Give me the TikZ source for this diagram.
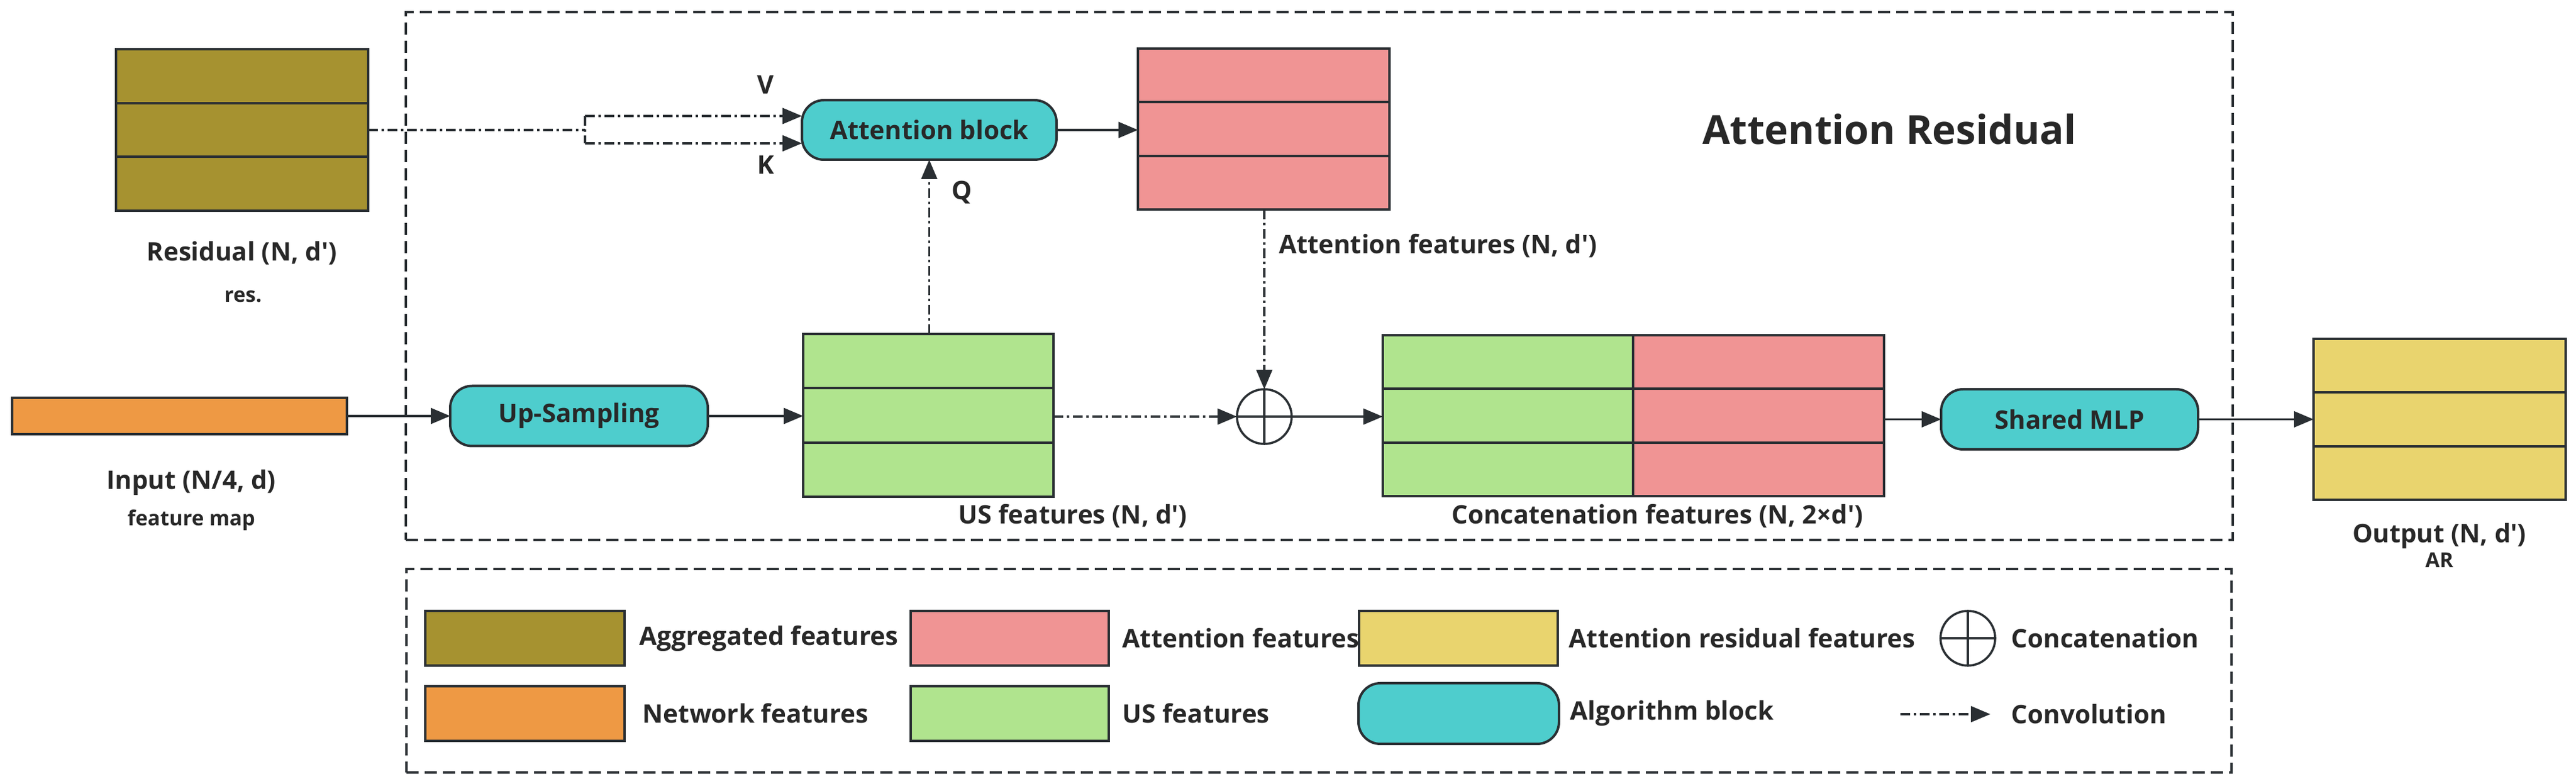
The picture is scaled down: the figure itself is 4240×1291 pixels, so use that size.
\documentclass[tikz,border=0pt]{standalone}
\usepackage{fontspec}
\setmainfont{Open Sans}
\usetikzlibrary{arrows.meta,calc}
\definecolor{olv}{RGB}{166,146,48}
\definecolor{pnk}{RGB}{240,148,148}
\definecolor{grn}{RGB}{176,228,142}
\definecolor{org}{RGB}{238,153,68}
\definecolor{ylw}{RGB}{233,212,110}
\definecolor{cyn}{RGB}{78,205,205}
\definecolor{edgec}{RGB}{42,47,51}
\definecolor{txt}{RGB}{40,40,40}
\newcommand\px{*0.25pt}
\newcommand\aq{\textquotesingle}
\newcommand\featrows[1]{\draw[edgec,line width=1pt]
  ($(#1.north west)!1/3!(#1.south west)$) -- ($(#1.north east)!1/3!(#1.south east)$)
  ($(#1.north west)!2/3!(#1.south west)$) -- ($(#1.north east)!2/3!(#1.south east)$);}
\tikzset{
  feat/.style={draw=edgec, line width=1pt, rectangle, inner sep=0pt, outer sep=0pt},
  algo/.style={draw=edgec, fill=cyn, line width=1pt, rectangle, rounded corners=9pt, inner sep=0pt, outer sep=0pt,
    font=\bfseries\fontsize{10.5}{12}\selectfont, text=txt},
  lab/.style={font=\bfseries\fontsize{10.5}{12}\selectfont, text=txt, inner sep=0pt},
  sub/.style={font=\bfseries\fontsize{8.5}{10}\selectfont, text=txt, inner sep=0pt},
  ttl/.style={font=\bfseries\fontsize{16.5}{18}\selectfont, text=txt, inner sep=0pt},
  arr/.style={draw=edgec, line width=0.9pt, -{Triangle[length=8pt,width=6.5pt]}},
  convdash/.style={draw=edgec, line width=0.9pt, dash pattern=on 4pt off 1.5pt on 1pt off 1.5pt},
  conv/.style={convdash, -{Triangle[length=8pt,width=6.5pt]}},
  frame/.style={draw=edgec, line width=0.8pt, dash pattern=on 5pt off 2.5pt},
  catc/.style={circle, draw=edgec, line width=0.9pt, fill=white, minimum size=90\px, inner sep=0pt, outer sep=0pt},
}
\begin{document}
\begin{tikzpicture}[x=0.25pt,y=-0.25pt]
\useasboundingbox (0,0) rectangle (4240,1291);

% frames
\node[frame, rectangle, minimum width=3007\px, minimum height=869\px, inner sep=0pt, outer sep=0pt] (arframe) at (2171.5,454.5) {};
\node[frame, rectangle, minimum width=3004\px, minimum height=335\px, inner sep=0pt, outer sep=0pt] (legframe) at (2171,1104.5) {};

% feature boxes
\node[feat, fill=olv, minimum width=415\px, minimum height=266\px] (res) at (398.5,214) {};
\featrows{res}
\node[feat, fill=pnk, minimum width=414\px, minimum height=265\px] (attf) at (2080,212.5) {};
\featrows{attf}
\node[feat, fill=org, minimum width=551\px, minimum height=60\px] (inp) at (295.5,685) {};
\node[feat, fill=grn, minimum width=412\px, minimum height=268\px] (us) at (1528,684) {};
\featrows{us}
\node[feat, fill=grn, minimum width=412\px, minimum height=265\px] (catg) at (2482,684.5) {};
\featrows{catg}
\node[feat, fill=pnk, minimum width=413\px, minimum height=265\px] (catr) at (2894.5,684.5) {};
\featrows{catr}
\node[feat, fill=ylw, minimum width=415\px, minimum height=265\px] (outp) at (4015.5,690.5) {};
\featrows{outp}

% algorithm blocks
\node[algo, minimum width=419\px, minimum height=98\px] (attb) at (1529.5,214) {Attention block};
\node[algo, minimum width=424\px, minimum height=99\px] (ups) at (953,685) {Up-Sampling};
\node[algo, minimum width=423\px, minimum height=99\px] (mlp) at (3406.5,690.5) {Shared MLP};

% concatenation
\node[catc] (cc) at (2081,686) {};
\draw[edgec, line width=0.9pt] (cc.north) -- (cc.south) (cc.west) -- (cc.east);

% labels
\node[lab] (lres) at (398,417) {Residual (N, d\aq)};
\node[sub] (lres2) at (400,488) {res.};
\node[lab] (linp) at (315,795) {Input (N/4, d)};
\node[sub] (linp2) at (315,857) {feature map};
\node[lab] (lus) at (1766,850) {US features (N, d\aq)};
\node[lab] (lcat) at (2728,850) {Concatenation features (N, 2×d\aq)};
\node[lab] (lout) at (4015,883) {Output (N, d\aq)};
\node[sub] (lout2) at (4015,922) {AR};
\node[lab] (latt) at (2367,405) {Attention features (N, d\aq)};
\node[lab] (lv) at (1260,140) {V};
\node[lab] (lk) at (1260,272) {K};
\node[lab] (lq) at (1583,317) {Q};
\node[ttl] (title) at (3110,213) {Attention Residual};

% connectors
\coordinate (sp) at (963,214);
\coordinate (spv) at (963,191);
\coordinate (spk) at (963,236);
\draw[convdash] (res.east) -- (sp);
\draw[convdash] (spv) -- (spk);
\draw[conv] (spv) -- (spv -| attb.west);
\draw[conv] (spk) -- (spk -| attb.west);
\draw[conv] (us.north -| attb.south) -- (attb.south);
\draw[arr] (attb.east) -- (attb.east -| attf.west);
\draw[conv] (attf.south -| cc.north) -- (cc.north);
\draw[arr] (inp.east) -- (ups.west);
\draw[arr] (ups.east) -- (ups.east -| us.west);
\draw[conv] (us.east |- cc.west) -- (cc.west);
\draw[arr] (cc.east) -- (cc.east -| catg.west);
\draw[arr] (catr.east |- mlp.west) -- (mlp.west);
\draw[arr] (mlp.east) -- (mlp.east -| outp.west);

% legend
\node[feat, fill=olv, minimum width=328\px, minimum height=90\px] (sw1) at (864,1051) {};
\node[lab, anchor=west] (t1) at (1052,1051) {Aggregated features};
\node[feat, fill=pnk, minimum width=326\px, minimum height=90\px] (sw2) at (1662,1051) {};
\node[lab, anchor=west] (t2) at (1847,1051) {Attention features};
\node[feat, fill=ylw, minimum width=327\px, minimum height=90\px] (sw3) at (2400,1051) {};
\node[lab, anchor=west] (t3) at (2582,1051) {Attention residual features};
\node[catc] (lcc) at (3239,1051) {};
\draw[edgec, line width=0.9pt] (lcc.north) -- (lcc.south) (lcc.west) -- (lcc.east);
\node[lab, anchor=west] (t4) at (3310,1051) {Concatenation};
\node[feat, fill=org, minimum width=328\px, minimum height=90\px] (sw4) at (864,1175) {};
\node[lab, anchor=west] (t5) at (1057,1175) {Network features};
\node[feat, fill=grn, minimum width=326\px, minimum height=90\px] (sw5) at (1662,1175) {};
\node[lab, anchor=west] (t6) at (1847,1175) {US features};
\node[algo, minimum width=330\px, minimum height=100\px] (sw6) at (2401,1175) {};
\node[lab, anchor=west] (t7) at (2584,1175) {Algorithm block};
\coordinate (cva) at (3128,1176);
\coordinate (cvb) at (3276,1176);
\draw[conv] (cva) -- (cvb);
\node[lab, anchor=west] (t8) at (3310,1176) {Convolution};
\end{tikzpicture}
\end{document}
